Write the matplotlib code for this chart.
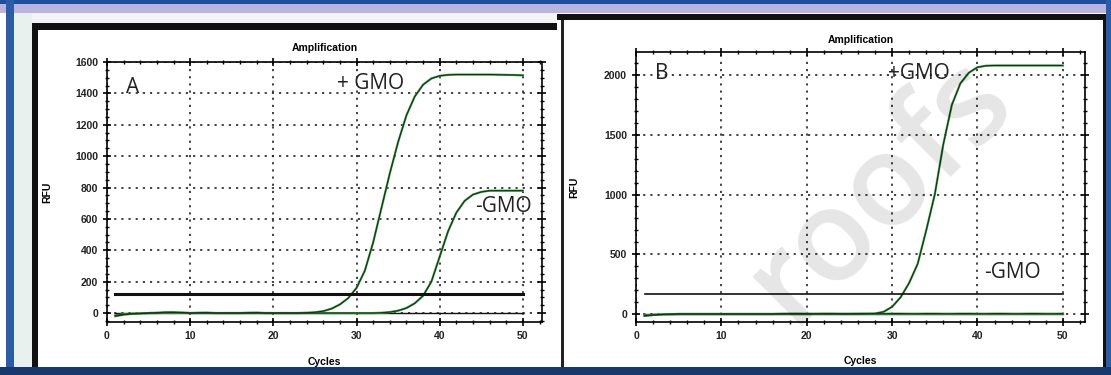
import matplotlib
matplotlib.use("Agg")
import matplotlib.pyplot as plt
from matplotlib.patches import Rectangle
from matplotlib.ticker import MultipleLocator

# ---- data ----
cycles = list(range(1, 51))

# panel A
a_pos = [-20, -10, -5, -3, 0, 2, 5, 5, 3, 0,
         2, 3, 0, 0, 0, 0, 2, 3, 0, 0,
         0, 0, 0, 2, 5, 12, 28, 55, 95, 160,
         270, 450, 670, 890, 1090, 1260, 1380, 1455, 1495, 1512,
         1518, 1520, 1520, 1520, 1520, 1520, 1519, 1518, 1517, 1515]
a_neg = [-15, -8, -4, -2, 0, 0, 2, 3, 2, 0,
         0, 0, 0, 0, 0, 0, 0, 0, 0, 0,
         0, 0, 0, 0, 0, 0, 0, 0, 0, 0,
         0, 0, 2, 6, 15, 32, 62, 110, 200, 360,
         520, 640, 715, 755, 772, 780, 780, 780, 780, 780]
a_threshold = 120

# panel B
b_pos = [-15, -8, -4, -2, 0, 0, 0, 0, 0, 0,
         0, 0, 0, 0, 0, 0, 0, 0, 0, 0,
         0, 0, 0, 0, 0, 0, 1, 4, 18, 60,
         140, 260, 420, 700, 1000, 1420, 1750, 1930, 2020, 2065,
         2078, 2080, 2080, 2080, 2080, 2080, 2080, 2080, 2080, 2080]
b_neg = [-15, -8, -4, -2, 0, 0, 0, 0, 0, 0,
         0, 0, 0, 0, 0, 0, 2, 3, 3, 2,
         2, 3, 3, 2, 2, 3, 3, 2, 2, 3,
         3, 2, 2, 3, 3, 2, 2, 3, 3, 2,
         2, 3, 3, 2, 2, 3, 3, 2, 2, 3]
b_threshold = 165

W, H = 1111, 375
fig = plt.figure(figsize=(W / 100, H / 100), dpi=100)
fig.patch.set_facecolor("white")


def rect(x0, y0, x1, y1, color, z=0):
    # pixel box (top-left origin) drawn on the figure
    fig.patches.append(Rectangle((x0 / W, 1 - y1 / H), (x1 - x0) / W, (y1 - y0) / H,
                                 transform=fig.transFigure, facecolor=color,
                                 edgecolor="none", zorder=z))


# window frame around both screenshots
rect(0, 0, W, 4, "#1d4f9c")
rect(0, 4, W, 13, "#b9b5de")
rect(14, 13, 557, 23, "#f4f4f6")
rect(6, 0, 14, H, "#2a5ca8")
rect(14, 13, 32, 367, "#e9f1ef")
rect(32, 23, 557, 30, "#111111")
rect(32, 23, 38, 367, "#111111")
rect(557, 14, 1108, 20, "#111111")
rect(561, 20, 564, H, "#222222")
rect(1103, 14, 1107, 370, "#111111")
rect(1106, 0, W, H, "#2a5ca8")
rect(0, 367, W, H, "#16386e")

tick_font = dict(family="Liberation Sans", weight="bold", size=7.5)
big_font = dict(family="Open Sans", size=15, color="#222222")


def style_axes(ax, ymax, ymin, ymajor, yminor, xmax):
    ax.set_xlim(0, xmax)
    ax.set_ylim(ymin, ymax)
    ax.xaxis.set_major_locator(MultipleLocator(10))
    ax.xaxis.set_minor_locator(MultipleLocator(2))
    ax.yaxis.set_major_locator(MultipleLocator(ymajor))
    ax.yaxis.set_minor_locator(MultipleLocator(yminor))
    ax.tick_params(which="major", direction="inout", length=6, width=1.2,
                   top=True, right=True, labeltop=False, labelright=False)
    ax.tick_params(which="minor", direction="inout", length=3, width=1.0,
                   top=True, right=True)
    for lab in ax.get_xticklabels() + ax.get_yticklabels():
        lab.set_fontfamily(tick_font["family"])
        lab.set_fontweight("bold")
        lab.set_fontsize(tick_font["size"])
        lab.set_color("#222222")
    ax.grid(True, which="major", color="#222222", linestyle=(0, (1.3, 3)), linewidth=1.2)
    for sp in ax.spines.values():
        sp.set_linewidth(1.2)
    ax.set_xlabel("Cycles", **tick_font)
    ax.set_ylabel("RFU", **tick_font)


def curve(ax, y):
    ax.plot(cycles, y, color="#3aa845", linewidth=1.6, zorder=3)
    ax.plot(cycles, y, color="#1b2e1b", linewidth=0.8, zorder=4)


# ---- panel A ----
axA = fig.add_axes([107 / W, 53 / H, 435 / W, 260 / H])
style_axes(axA, 1600, -57, 200, 50, 52.3)
axA.plot([1, 50], [a_threshold, a_threshold], color="#111111", linewidth=2.2, zorder=5)
axA.plot([1, 50], [0, 0], color="#111111", linewidth=1.0, zorder=2)
curve(axA, a_pos)
curve(axA, a_neg)
axA.text(2.3, 1440, "A", va="center", ha="left", **big_font)
axA.text(27.6, 1460, "+ GMO", va="center", ha="left", **big_font)
axA.text(44.2, 680, "-GMO", va="center", ha="left", **big_font)
axA.text(0.5, 1 + 14 / 260, "Amplification", transform=axA.transAxes,
         ha="center", va="center", **tick_font)
axA.xaxis.set_label_coords(0.5, -0.135)
axA.yaxis.set_label_coords(-0.126, 0.5)

# ---- panel B ----
axB = fig.add_axes([636 / W, 53 / H, 449 / W, 270 / H])
style_axes(axB, 2193, -67, 500, 100, 52.6)
axB.plot([1, 50], [b_threshold, b_threshold], color="#111111", linewidth=1.2, zorder=5)
axB.plot([1, 50], [0, 0], color="#111111", linewidth=1.0, zorder=2)
curve(axB, b_neg)
curve(axB, b_pos)
axB.text(2.2, 2017, "B", va="center", ha="left", **big_font)
axB.text(29.5, 2017, "+GMO", va="center", ha="left", **big_font)
axB.text(40.8, 346, "-GMO", va="center", ha="left", **big_font)
axB.text(0.5, 1 + 12 / 270, "Amplification", transform=axB.transAxes,
         ha="center", va="center", **tick_font)
axB.xaxis.set_label_coords(0.5, -0.126)
axB.yaxis.set_label_coords(-0.127, 0.5)

# watermark over panel B
fig.text(880 / W, 1 - 190 / H, "roofs", rotation=45, fontsize=92,
         family="Open Sans", weight="semibold", color="black", alpha=0.1,
         ha="center", va="center", zorder=10)

fig.savefig("out.png", dpi=100)
